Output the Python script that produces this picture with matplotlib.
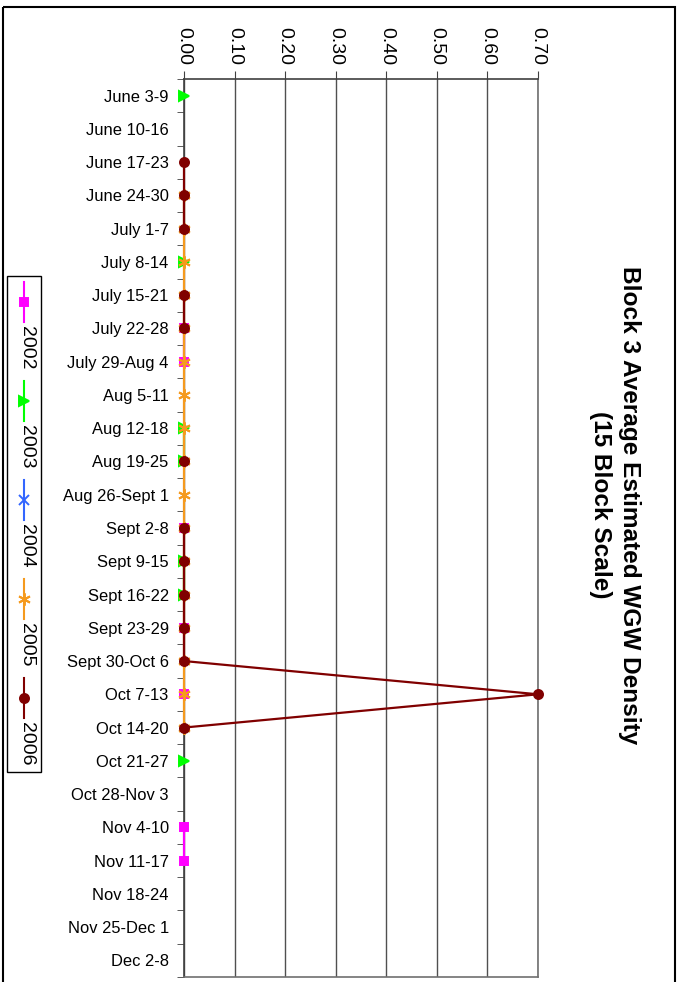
import numpy as np
import matplotlib
matplotlib.use('Agg')
import matplotlib.pyplot as plt
from matplotlib.patches import Rectangle
from matplotlib.lines import Line2D

plt.rcParams['font.family'] = ['Liberation Sans', 'DejaVu Sans']

n = np.nan

weeks = ['June 3-9', 'June 10-16', 'June 17-23', 'June 24-30', 'July 1-7',
         'July 8-14', 'July 15-21', 'July 22-28', 'July 29-Aug 4',
         'Aug 5-11', 'Aug 12-18', 'Aug 19-25', 'Aug 26-Sept 1', 'Sept 2-8',
         'Sept 9-15', 'Sept 16-22', 'Sept 23-29', 'Sept 30-Oct 6',
         'Oct 7-13', 'Oct 14-20', 'Oct 21-27', 'Oct 28-Nov 3', 'Nov 4-10',
         'Nov 11-17', 'Nov 18-24', 'Nov 25-Dec 1', 'Dec 2-8']

# density per week, nan = no sample that week
d2002 = [n, n, n, n, n, n, n, 0, 0, n, n, n, n, 0,
         n, n, 0, n, 0, n, n, n, 0, 0, n, n, n]
d2003 = [0, n, n, n, n, 0, n, n, n, n, 0, 0, n, n,
         0, 0, n, n, n, n, 0, n, n, n, n, n, n]
d2004 = [n] * 27
d2005 = [n, n, n, 0, 0, 0, 0, 0, 0, 0, 0, 0, 0, 0,
         0, 0, 0, 0, 0, 0, n, n, n, n, n, n, n]
d2006 = [n, n, 0, 0, 0, n, 0, 0, n, n, n, 0, n, 0,
         0, 0, 0, 0, 0.70, 0, n, n, n, n, n, n, n]

years = ['2002', '2003', '2004', '2005', '2006']
series = [d2002, d2003, d2004, d2005, d2006]
colors = ['#FF00FF', '#00FF00', '#3366FF', '#F59A1E', '#800000']
markers = ['s', '>', 'x', (6, 2, 0), 'o']
msizes = [5.5, 6.5, 7, 9, 6.5]

W, H = 679, 982


def draw_chart():
    fig = plt.figure(figsize=(W / 100, H / 100), dpi=100)

    # overlay in pixel coords for border, title and legend
    ov = fig.add_axes([0, 0, 1, 1])
    ov.set_xlim(0, W)
    ov.set_ylim(H, 0)
    ov.axis('off')

    ax = fig.add_axes([184 / W, 1 - 977 / H, (538 - 184) / W, (977 - 79) / H])
    y = np.arange(len(weeks))

    for vals, c, m, ms in zip(series, colors, markers, msizes):
        ax.plot(vals, y, color=c, marker=m, markersize=ms, lw=1.6,
                mec=c, mfc=c, mew=1.4, clip_on=False, zorder=5)

    # value axis on top
    ax.set_xlim(0, 0.70)
    ax.set_xticks(np.arange(0, 0.71, 0.1))
    ax.set_xticklabels(['%.2f' % v for v in np.arange(0, 0.71, 0.1)],
                       rotation=-90, fontsize=14)
    ax.xaxis.tick_top()
    ax.tick_params(axis='x', direction='out', length=6, pad=4,
                   color='#404040')
    ax.grid(axis='x', color='#505050', lw=1)

    # week axis on the left
    ax.set_ylim(len(weeks) - 0.5, -0.5)
    ax.set_yticks(y)
    ax.set_yticklabels(weeks, fontsize=11.9)
    ax.set_yticks(np.arange(-0.5, len(weeks), 1), minor=True)
    ax.tick_params(axis='y', which='major', length=0, pad=11)
    ax.tick_params(axis='y', which='minor', length=5, direction='out',
                   color='#404040')

    for s in ax.spines.values():
        s.set_color('#404040')
        s.set_linewidth(1.2)
    ax.spines['right'].set_color('#707070')
    ax.spines['bottom'].set_color('#707070')

    # outer border
    ov.add_patch(Rectangle((3, 7), 672, 990, fill=False, ec='black', lw=1.5))

    # title, rotated like the rest of the chart
    ov.text(615, 505, 'Block 3 Average Estimated WGW Density\n(15 Block Scale)',
            rotation=-90, ha='center', va='center', fontsize=17.6,
            fontweight='bold', multialignment='center', linespacing=1.35)

    # legend, drawn by hand since entries run top to bottom
    ov.add_patch(Rectangle((7, 276), 34, 496, fill=False, ec='black', lw=1))
    for i, (yr, c, m, ms) in enumerate(zip(years, colors, markers, msizes)):
        y0 = 302 + i * 99
        ov.add_line(Line2D([24, 24], [y0 - 20, y0 + 20], color=c, lw=1.5))
        ov.add_line(Line2D([24], [y0], color=c, marker=m, markersize=ms,
                           mfc=c, mec=c, mew=1.4))
        ov.text(26, y0 + 24, yr, rotation=-90, ha='center', va='top',
                fontsize=14)

    fig.savefig('out.png', dpi=100)


def main():
    draw_chart()


main()
